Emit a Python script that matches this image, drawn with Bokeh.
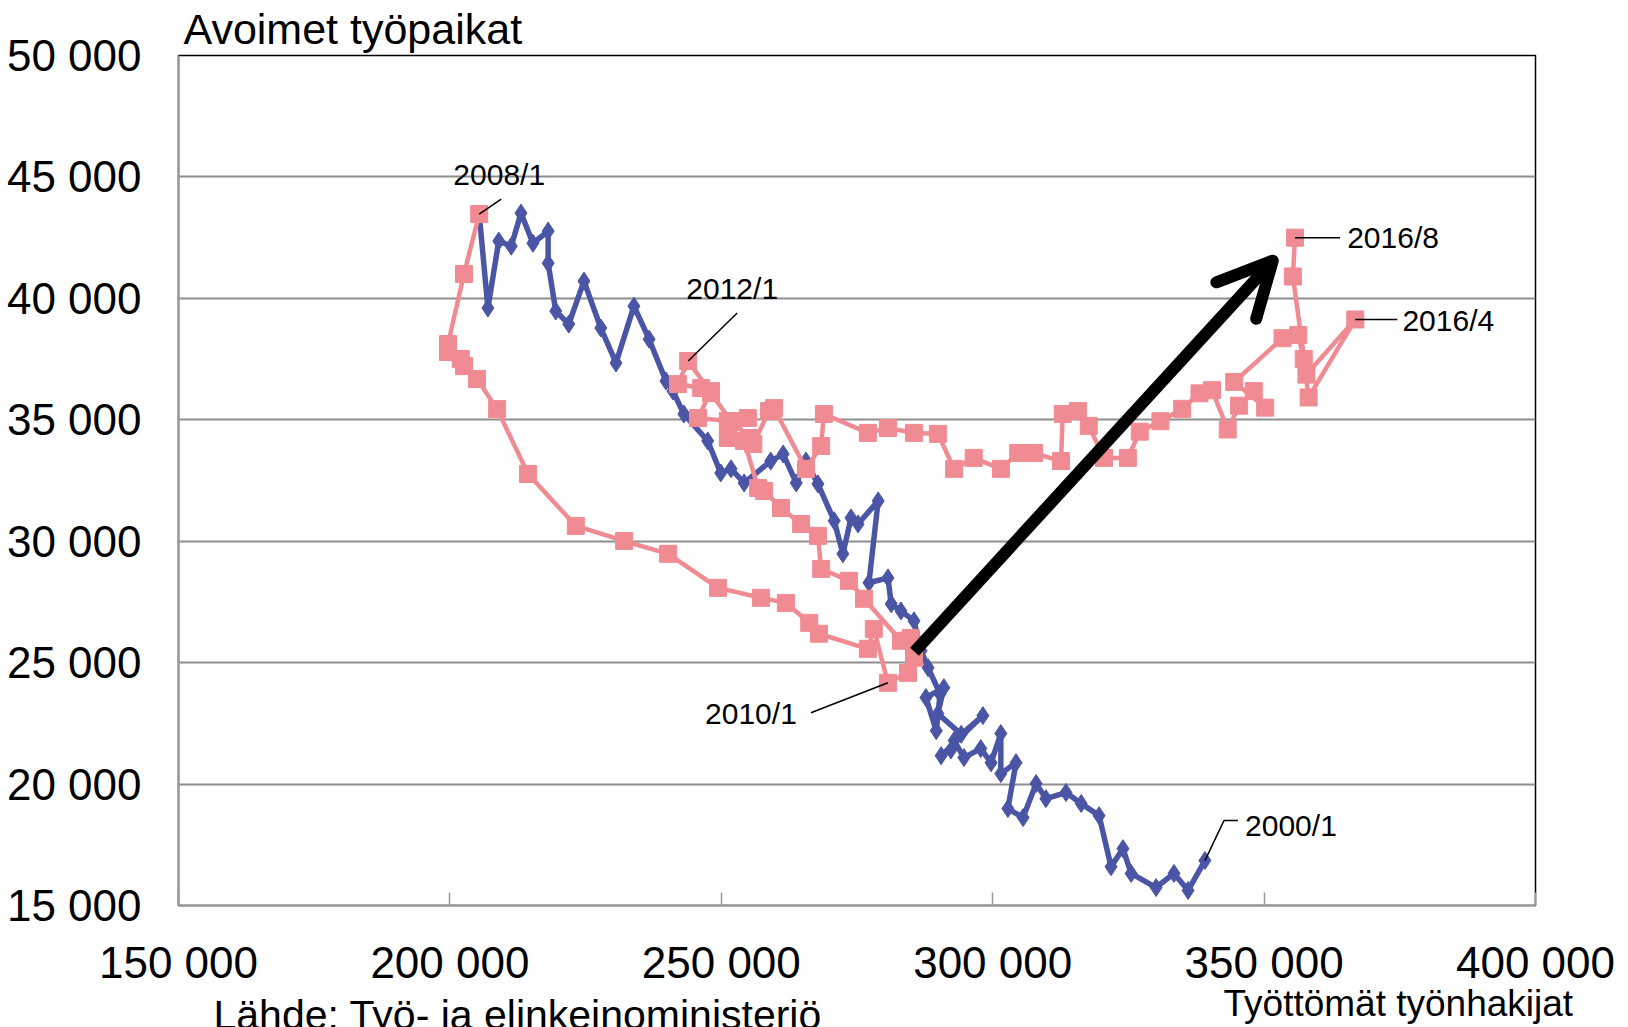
from bokeh.plotting import figure
from bokeh.models import FixedTicker, Label, Arrow, OpenHead, Range1d, Title
from bokeh.embed import file_html
from bokeh.resources import INLINE

FONT = "Liberation Sans"

# ---------------- data ----------------
x_ticks = [150000, 200000, 250000, 300000, 350000, 400000]
x_tick_labels = ["150 000", "200 000", "250 000", "300 000", "350 000", "400 000"]
y_ticks = [15000, 20000, 25000, 30000, 35000, 40000, 45000, 50000]
y_tick_labels = ["15 000", "20 000", "25 000", "30 000", "35 000", "40 000", "45 000", "50 000"]

# 2000/1 -> 2008/1 (unemployed job seekers, open vacancies)
blue_x = [339100, 336000, 333400, 330100, 325500, 324000, 321800, 319600, 316300, 313500,
          309800, 308000, 305600, 302800, 304300, 301500, 301500, 299700, 297800, 294700,
          292900, 298200, 290500, 292300, 294200, 289900, 291000, 287700, 289600, 290300,
          288100, 286800, 285500, 283100, 281300, 280700, 277200, 278900, 275200, 273900,
          272400, 270800, 267800, 265600, 263800, 261400, 259100, 254200, 251800, 249900,
          247500, 243100, 241100, 239800, 236700, 233900, 230600, 227800, 224700, 221900,
          219500, 218100, 218100, 215300, 213100, 211300, 209000, 207000, 205400]
blue_y = [16850, 15620, 16320, 15740, 16320, 17340, 16600, 18700, 19200, 19650,
          19400, 20020, 18620, 18990, 20880, 20430, 22080, 20880, 21460, 21090,
          21790, 22820, 21170, 21400, 22050, 22900, 23970, 23560, 22200, 23710,
          24790, 25490, 26720, 27130, 27420, 28490, 28290, 31660, 30710, 30960,
          29480, 30840, 32360, 33300, 32400, 33590, 33300, 32400, 32980, 32810,
          34130, 35240, 36180, 36600, 38320, 39680, 37340, 38780, 40710, 38940,
          39480, 41450, 42770, 42270, 43510, 42150, 42360, 39600, 43470]

# 2008/1 -> 2016/8
pink_x = [205400, 202600, 199650, 199650, 202000, 202600, 205000, 208700, 214400, 223200,
          232100, 240200, 249400, 257300, 261900, 266200, 268000, 277000, 278100, 280700,
          284400, 285500, 284900, 283100, 276300, 273500, 268400, 267800, 264700, 261000,
          257900, 256800, 254200, 251200, 254900, 251200, 245700, 248100, 246300, 242000,
          243900, 248100, 251800, 255400, 255900, 258800, 259700, 265600, 268400, 268900,
          277000, 280700, 285500, 289900, 292900, 296500, 301500, 304700, 307600, 312600,
          312900, 315700, 317700, 320500, 324900, 327100, 330900, 334900, 338100, 340400,
          343300, 345400, 348100, 350200, 344500, 353400, 356300, 357300, 358200, 366800,
          357800, 355300, 355700]
pink_y = [43470, 41000, 38120, 37790, 37500, 37210, 36680, 35440, 32770, 30630,
          30010, 29480, 28080, 27670, 27460, 26640, 26190, 25570, 26390, 24170,
          24580, 25200, 26020, 25900, 27630, 28370, 28860, 30220, 30710, 31370,
          32070, 32190, 34130, 34250, 35070, 34950, 35070, 36180, 36310, 36470,
          37420, 36100, 34950, 34250, 34000, 35360, 35480, 32980, 33920, 35240,
          34460, 34660, 34460, 34420, 32980, 33430, 32980, 33630, 33630, 33300,
          35240, 35360, 34750, 33430, 33430, 34510, 34940, 35450, 36090, 36220,
          34600, 35580, 36180, 35500, 36560, 38360, 38490, 37500, 35920, 39130,
          36860, 40900, 42500]

# arrow (tail / head) in data units
arrow_start = (285600, 25450)
arrow_end = (351600, 41550)

# ---------------- figure ----------------
X0, X1, Y0, Y1 = 150000, 400000, 15000, 50000
FRAME_W, FRAME_H = 1357, 851
XPP = (X1 - X0) / FRAME_W   # data units per pixel
YPP = (Y1 - Y0) / FRAME_H

p = figure(width=1628, height=1027,
           x_range=Range1d(X0, X1), y_range=Range1d(Y0, Y1),
           output_backend="svg", toolbar_location=None,
           min_border_left=178, min_border_right=93,
           min_border_top=54, min_border_bottom=122)

p.background_fill_color = "white"
p.border_fill_color = "white"
p.outline_line_color = "black"
p.outline_line_width = 1.5

p.xgrid.visible = False
p.ygrid.ticker = FixedTicker(ticks=y_ticks)
p.ygrid.grid_line_color = "#8e8e8e"
p.ygrid.grid_line_width = 2

p.xaxis.ticker = FixedTicker(ticks=x_ticks)
p.xaxis.major_label_overrides = {t: s for t, s in zip(x_ticks, x_tick_labels)}
p.yaxis.ticker = FixedTicker(ticks=y_ticks)
p.yaxis.major_label_overrides = {t: s for t, s in zip(y_ticks, y_tick_labels)}

for ax in (p.xaxis[0], p.yaxis[0]):
    ax.major_label_text_font = FONT
    ax.major_label_text_font_size = "44px"
    ax.major_label_text_color = "black"
    ax.axis_line_color = "#9a9a9a"
    ax.axis_line_width = 2
    ax.minor_tick_line_color = None

p.xaxis.major_tick_in = 13
p.xaxis.major_tick_out = 0
p.xaxis.major_tick_line_color = "#9a9a9a"
p.xaxis.major_tick_line_width = 1.5
p.xaxis.major_label_standoff = 32
p.yaxis.major_tick_in = 0
p.yaxis.major_tick_out = 0
p.yaxis.major_label_standoff = 37

BLUE = "#4b55a5"
PINK = "#f08b93"

p.line(blue_x, blue_y, line_color=BLUE, line_width=5.5)
p.scatter(blue_x, blue_y, marker="diamond", size=18, fill_color=BLUE, line_color=BLUE)

p.line(pink_x, pink_y, line_color=PINK, line_width=4.5)
p.scatter(pink_x, pink_y, marker="square", size=17, fill_color=PINK, line_color=PINK)

# ---------------- annotations ----------------
def lab(x, y, text, dx, dy, size="30px"):
    p.add_layout(Label(x=x + dx * XPP, y=y + dy * YPP, text=text, text_font=FONT,
                       text_font_size=size, text_color="black", text_align="center",
                       text_baseline="alphabetic"))

def leader(x, y, pts):
    xs = [x + a * XPP for a, b in pts]
    ys = [y + b * YPP for a, b in pts]
    p.line(xs, ys, line_color="black", line_width=1.5)

# 2008/1
leader(pink_x[0], pink_y[0], [(0, 0), (22, 15)])
lab(pink_x[0], pink_y[0], "2008/1", 20, 40)
# 2012/1
i12 = 40
leader(pink_x[i12], pink_y[i12], [(0, 0), (49, 48)])
lab(pink_x[i12], pink_y[i12], "2012/1", 44, 73)
# 2010/1
i10 = 19
leader(pink_x[i10], pink_y[i10], [(0, 0), (-77, -30)])
lab(pink_x[i10], pink_y[i10], "2010/1", -137, -31)
# 2000/1
leader(blue_x[0], blue_y[0], [(0, 0), (19, 40), (33, 40)])
lab(blue_x[0], blue_y[0], "2000/1", 86, 35)
# 2016/8
leader(pink_x[-1], pink_y[-1], [(0, 0), (45, 0)])
lab(pink_x[-1], pink_y[-1], "2016/8", 98, 0)
# 2016/4
i164 = 79
leader(pink_x[i164], pink_y[i164], [(0, 0), (42, 0)])
lab(pink_x[i164], pink_y[i164], "2016/4", 93, -1)

# big arrow
p.add_layout(Arrow(end=OpenHead(line_color="black", line_width=12, size=54,
                                line_cap="round", line_join="round"),
                   x_start=arrow_start[0], y_start=arrow_start[1],
                   x_end=arrow_end[0], y_end=arrow_end[1],
                   line_color="black", line_width=12))

# texts around the frame
p.add_layout(Title(text="Avoimet työpaikat", align="left", offset=5, standoff=5,
                   vertical_align="bottom", text_font=FONT, text_font_size="43px",
                   text_font_style="normal", text_color="black"), "above")
p.add_layout(Title(text="Työttömät työnhakijat", align="left", offset=1045, standoff=-18,
                   vertical_align="bottom", text_font=FONT, text_font_size="37px",
                   text_font_style="normal", text_color="black"), "below")
p.add_layout(Title(text="Lähde: Työ- ja elinkeinoministeriö", align="left", offset=35,
                   standoff=-45, vertical_align="top", text_font=FONT, text_font_size="41px",
                   text_font_style="normal", text_color="black"), "below")

open("out.html", "w").write(file_html(p, INLINE))
